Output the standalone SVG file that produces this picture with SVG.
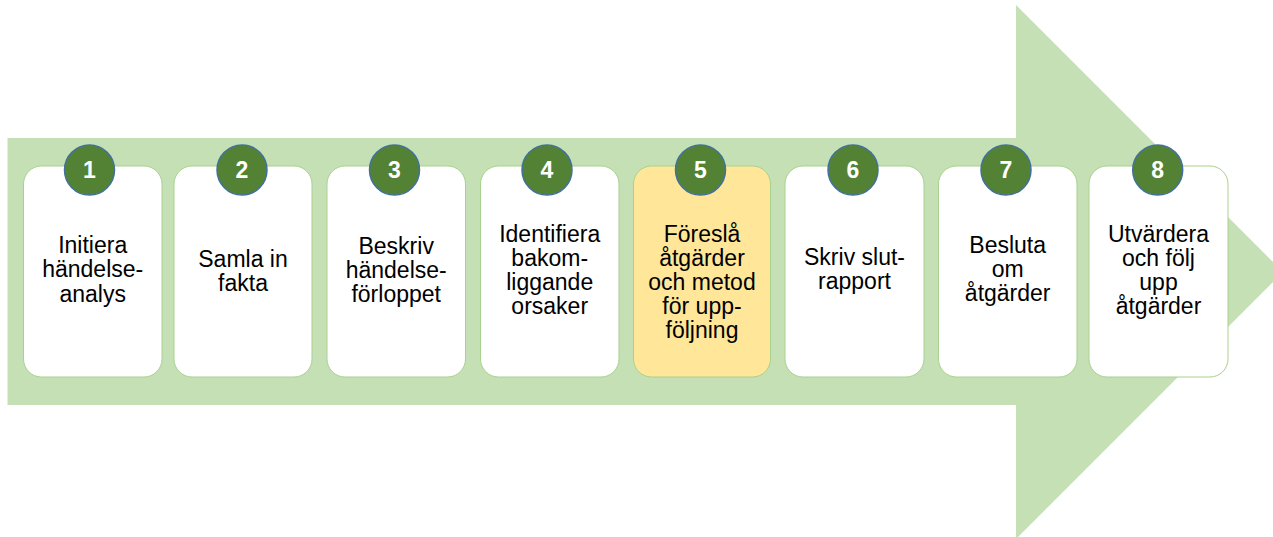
<svg xmlns="http://www.w3.org/2000/svg" width="1273" height="537" viewBox="0 0 1273 537">
<style>
.card{fill:#ffffff;stroke:#a9d18e;stroke-width:1}
.hl{fill:#ffe699}
.badge{fill:#548235;stroke:#41719c;stroke-width:1.5}
.num{font-family:"Liberation Sans",Arial,sans-serif;font-weight:bold;font-size:23px;fill:#ffffff;text-anchor:middle}
.lbl{font-family:"Liberation Sans",Arial,sans-serif;font-size:23px;fill:#000000;text-anchor:middle}
</style>
<rect width="1273" height="537" fill="#ffffff"/>
<g id="arrow">
<polygon points="7.5,138 1016,138 1016,5 1283,272 1016,539 1016,405 7.5,405" fill="#c5e0b4"/>
</g>
<g id="connectors"></g>
<g id="step1">
<rect class="card" x="23.5" y="166" width="138.5" height="211" rx="18"/>
<circle class="badge" cx="89.5" cy="170" r="25"/>
<text class="num" x="89.5" y="178.3">1</text>
<text class="lbl" x="92.7" y="253">Initiera</text>
<text class="lbl" x="92.7" y="277">händelse-</text>
<text class="lbl" x="92.7" y="301.5">analys</text>
</g>
<g id="step2">
<rect class="card" x="174" y="166" width="138" height="211" rx="18"/>
<circle class="badge" cx="242" cy="170" r="25"/>
<text class="num" x="242" y="178.3">2</text>
<text class="lbl" x="243" y="266.7">Samla in</text>
<text class="lbl" x="243" y="290.5">fakta</text>
</g>
<g id="step3">
<rect class="card" x="327" y="166" width="138.5" height="211" rx="18"/>
<circle class="badge" cx="394.5" cy="170" r="25"/>
<text class="num" x="394.5" y="178.3">3</text>
<text class="lbl" x="396.2" y="254.3">Beskriv</text>
<text class="lbl" x="396.2" y="278.3">händelse-</text>
<text class="lbl" x="396.2" y="302.3">förloppet</text>
</g>
<g id="step4">
<rect class="card" x="480.5" y="166" width="138.5" height="211" rx="18"/>
<circle class="badge" cx="547" cy="170" r="25"/>
<text class="num" x="547" y="178.3">4</text>
<text class="lbl" x="549.7" y="241.7">Identifiera</text>
<text class="lbl" x="549.7" y="265.7">bakom-</text>
<text class="lbl" x="549.7" y="289.7">liggande</text>
<text class="lbl" x="549.7" y="313.7">orsaker</text>
</g>
<g id="step5">
<rect class="card hl" x="633.5" y="166" width="137" height="211" rx="18"/>
<circle class="badge" cx="700.5" cy="170" r="25"/>
<text class="num" x="700.5" y="178.3">5</text>
<text class="lbl" x="702" y="241.7">Föreslå</text>
<text class="lbl" x="702" y="265.7">åtgärder</text>
<text class="lbl" x="702" y="289.7">och metod</text>
<text class="lbl" x="702" y="313.7">för upp-</text>
<text class="lbl" x="702" y="337.7">följning</text>
</g>
<g id="step6">
<rect class="card" x="785" y="166" width="139" height="211" rx="18"/>
<circle class="badge" cx="853" cy="170" r="25"/>
<text class="num" x="853" y="178.3">6</text>
<text class="lbl" x="854.5" y="265">Skriv slut-</text>
<text class="lbl" x="854.5" y="289">rapport</text>
</g>
<g id="step7">
<rect class="card" x="938.5" y="166" width="138.5" height="211" rx="18"/>
<circle class="badge" cx="1006" cy="170" r="25"/>
<text class="num" x="1006" y="178.3">7</text>
<text class="lbl" x="1007.7" y="252.7">Besluta</text>
<text class="lbl" x="1007.7" y="276.7">om</text>
<text class="lbl" x="1007.7" y="300.7">åtgärder</text>
</g>
<g id="step8">
<rect class="card" x="1089" y="166" width="139" height="211" rx="18"/>
<circle class="badge" cx="1157.7" cy="170" r="25"/>
<text class="num" x="1157.7" y="178.3">8</text>
<text class="lbl" x="1158.5" y="241.7">Utvärdera</text>
<text class="lbl" x="1158.5" y="265.7">och följ</text>
<text class="lbl" x="1158.5" y="289.7">upp</text>
<text class="lbl" x="1158.5" y="313.7">åtgärder</text>
</g>
</svg>
